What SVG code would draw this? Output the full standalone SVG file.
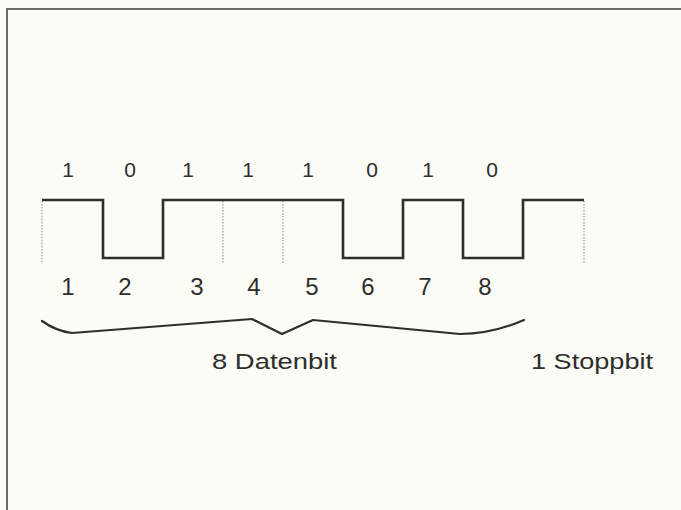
<svg xmlns="http://www.w3.org/2000/svg" width="681" height="510" viewBox="0 0 681 510">
  <style>
    .bg { fill: #fcfcf6; }
    .frame { fill: none; stroke: #6b6b66; stroke-width: 2; }
    .signal { fill: none; stroke: #2e2e2c; stroke-width: 2.6; stroke-linejoin: miter; }
    .tick { fill: none; stroke: #8a8a86; stroke-width: 1; stroke-dasharray: 1.5 1.5; }
    .brace { fill: none; stroke: #2e2e2c; stroke-width: 2.2; stroke-linejoin: round; stroke-linecap: round; }
    .bitval { font-family: "Liberation Sans", Arial, sans-serif; font-size: 21px; fill: #2e2e2c; text-anchor: middle; }
    .bitnum { font-family: "Liberation Sans", Arial, sans-serif; font-size: 24px; fill: #2e2e2c; text-anchor: middle; }
    .label { font-family: "Liberation Sans", Arial, sans-serif; font-size: 22px; fill: #2e2e2c; }
  </style>

  <rect class="bg" x="0" y="0" width="681" height="510"/>

  <!-- page frame: top and left edges -->
  <path class="frame" d="M7,510 L7,9 L681,9"/>

  <!-- bit values above the signal -->
  <g id="bit-values">
    <text class="bitval" x="68" y="177">1</text>
    <text class="bitval" x="130" y="177">0</text>
    <text class="bitval" x="188" y="177">1</text>
    <text class="bitval" x="248" y="177">1</text>
    <text class="bitval" x="308" y="177">1</text>
    <text class="bitval" x="372" y="177">0</text>
    <text class="bitval" x="428" y="177">1</text>
    <text class="bitval" x="492" y="177">0</text>
  </g>

  <!-- bit-cell boundaries where the level does not change -->
  <g id="cell-ticks">
    <line class="tick" x1="42" y1="201" x2="42" y2="263"/>
    <line class="tick" x1="223" y1="201" x2="223" y2="263"/>
    <line class="tick" x1="283" y1="201" x2="283" y2="263"/>
    <line class="tick" x1="584" y1="201" x2="584" y2="263"/>
  </g>

  <!-- serial signal: 8 data bits followed by the stop bit -->
  <g id="signal">
    <path class="signal" d="M42,200 H103 V258 H163 V200 H343 V258 H403 V200 H463 V258 H523 V200 H584"/>
  </g>

  <!-- bit numbers below the signal -->
  <g id="bit-numbers">
    <text class="bitnum" x="68" y="295">1</text>
    <text class="bitnum" x="125" y="295">2</text>
    <text class="bitnum" x="197" y="295">3</text>
    <text class="bitnum" x="254" y="295">4</text>
    <text class="bitnum" x="312" y="295">5</text>
    <text class="bitnum" x="368" y="295">6</text>
    <text class="bitnum" x="425" y="295">7</text>
    <text class="bitnum" x="485" y="295">8</text>
  </g>

  <!-- brace grouping the data bits -->
  <g id="brace">
    <path class="brace" d="M42,321 Q56,331 72,333 L252,319 L282,334 L313,320 L460,334 Q492,334 524,320"/>
  </g>

  <g id="label-data">
    <text class="label" x="212" y="369" textLength="125" lengthAdjust="spacingAndGlyphs">8 Datenbit</text>
  </g>
  <g id="label-stop">
    <text class="label" x="531" y="369" textLength="122" lengthAdjust="spacingAndGlyphs">1 Stoppbit</text>
  </g>
</svg>
